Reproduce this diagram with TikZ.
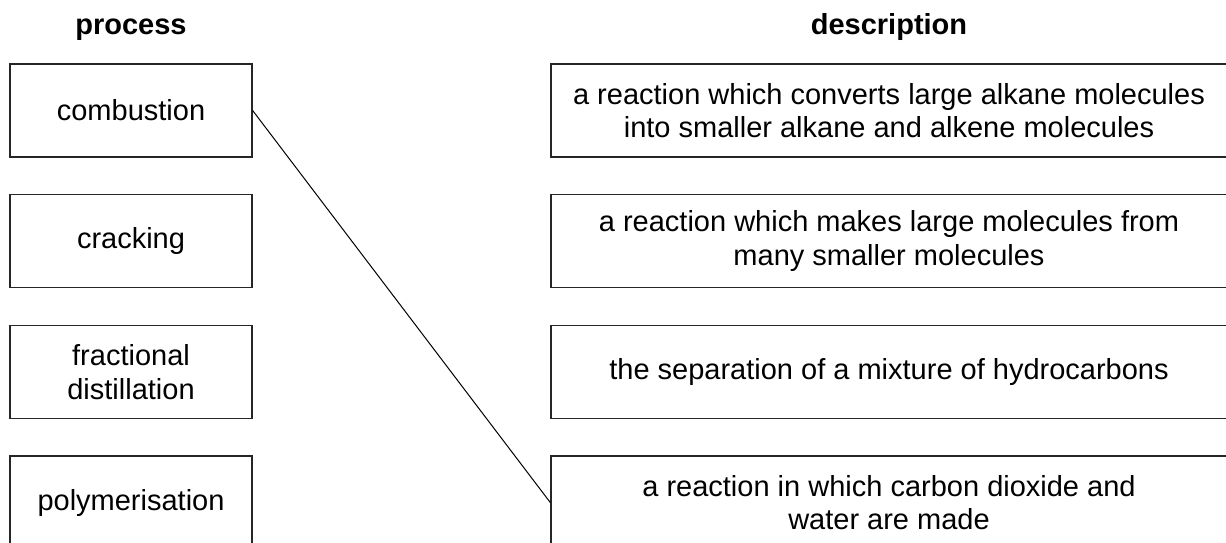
\documentclass[tikz,border=0pt]{standalone}
\usepackage{fontspec}
\setmainfont{Liberation Sans}
\usepackage{tikz}

\begin{document}
\begin{tikzpicture}[x=1pt,y=-1pt,node distance=130.7pt,
    font=\fontsize{29}{33.5}\selectfont,
    proc node/.style={rectangle,draw=black!85,line width=1.3pt,minimum width=242pt,minimum height=93pt,inner sep=0pt,align=center},
    desc node/.style={rectangle,draw=black!85,line width=1.3pt,minimum width=676pt,minimum height=93pt,inner sep=0pt,align=center},
    head node/.style={font=\fontsize{29}{33.5}\selectfont\bfseries,anchor=base}]

  \clip (0,0) rectangle (1226,543);
  \fill[white] (0,0) rectangle (1226,543);

  \node[proc node]  (comb) at (131,110.5) {combustion};
  \node[proc node]  (crack) [below of=comb] {cracking};
  \node[proc node]  (frac) [below of=crack] {fractional\\distillation};
  \node[proc node]  (poly) [below of=frac] {polymerisation};

  \node[desc node]  (alk) at (889,110.5) {a reaction which converts large alkane molecules\\into smaller alkane and alkene molecules};
  \node[desc node]  (large) [below of=alk] {a reaction which makes large molecules from\\many smaller molecules};
  \node[desc node]  (sep) [below of=large] {the separation of a mixture of hydrocarbons};
  \node[desc node]  (water) [below of=sep] {a reaction in which carbon dioxide and\\water are made};

  \node[head node] (proctitle) at (131,35) {process};
  \node[head node] (desctitle) at (889,35) {description};

  \path[line width=1pt] (comb.east) edge (water.west);

\end{tikzpicture}
\end{document}
